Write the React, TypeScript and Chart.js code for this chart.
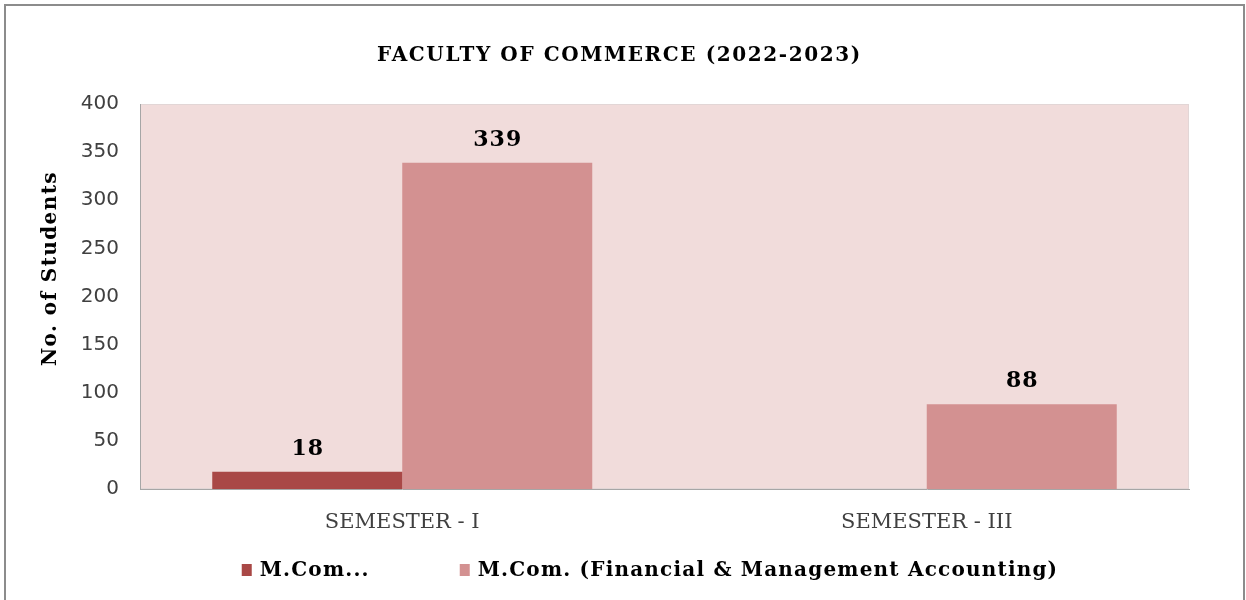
import React, { useEffect, useRef } from "react";
import { Chart, registerables } from "chart.js";

Chart.register(...registerables);

const chartTitle = "FACULTY OF COMMERCE (2022-2023)";
const yAxisTitle = "No. of Students";
const categories = ["SEMESTER - I", "SEMESTER - III"];
const seriesNames = ["M.Com...", "M.Com. (Financial & Management Accounting)"];
const mcomValues: (number | null)[] = [18, null];
const fmaValues: (number | null)[] = [339, 88];
const yTicks = [0, 50, 100, 150, 200, 250, 300, 350, 400];
const seriesColors = ["#A94846", "#D39191"];

const SERIF = "'DejaVu Serif', 'Liberation Serif', serif";
const SANS = "'DejaVu Sans', 'Liberation Sans', sans-serif";

const frameAndBg = {
  id: "frameAndBg",
  beforeDraw(chart: any) {
    const { ctx, chartArea } = chart;
    ctx.save();
    ctx.fillStyle = "#ffffff";
    ctx.fillRect(0, 0, chart.width, chart.height);
    ctx.strokeStyle = "#8c8c8c";
    ctx.lineWidth = 2;
    ctx.strokeRect(5, 5, chart.width - 7, chart.height + 10);
    ctx.fillStyle = "#F1DCDB";
    ctx.fillRect(chartArea.left, chartArea.top, chartArea.right - chartArea.left, chartArea.bottom - chartArea.top);
    ctx.strokeStyle = "#e2d6d6";
    ctx.lineWidth = 1;
    ctx.strokeRect(chartArea.left + 0.5, chartArea.top + 0.5, chartArea.right - chartArea.left - 1, chartArea.bottom - chartArea.top - 1);
    ctx.restore();
  },
};

const texts = {
  id: "texts",
  afterDraw(chart: any) {
    const { ctx, chartArea } = chart;
    ctx.save();
    ctx.fillStyle = "#000000";
    // chart title
    ctx.font = `bold 20px ${SERIF}`;
    (ctx as any).letterSpacing = "1.6px";
    ctx.textAlign = "center";
    ctx.textBaseline = "middle";
    ctx.fillText(chartTitle, (48 + chartArea.right) / 2 + 1, 56);
    // y axis title
    ctx.save();
    ctx.translate(51, chartArea.top + (chartArea.bottom - chartArea.top) * 0.43);
    ctx.rotate(-Math.PI / 2);
    ctx.font = `bold 20px ${SERIF}`;
    (ctx as any).letterSpacing = "1.4px";
    ctx.fillText(yAxisTitle, 1, 0);
    ctx.restore();
    // value labels
    ctx.font = `bold 22px ${SERIF}`;
    (ctx as any).letterSpacing = "1px";
    ctx.textAlign = "center";
    ctx.textBaseline = "alphabetic";
    chart.data.datasets.forEach((ds: any, i: number) => {
      const meta = chart.getDatasetMeta(i);
      meta.data.forEach((bar: any, j: number) => {
        const v = ds.data[j];
        if (v === null || v === undefined) return;
        ctx.fillText(String(v), bar.x + 0.5, bar.y - 17);
      });
    });
    // legend
    const datasets = chart.data.datasets;
    ctx.font = `bold 20px ${SERIF}`;
    (ctx as any).letterSpacing = "1.2px";
    ctx.textBaseline = "middle";
    ctx.textAlign = "left";
    const box = 10;
    const boxGap = 8;
    const itemGap = 90;
    const widths = datasets.map((d: any) => ctx.measureText(d.label).width);
    const total = widths.reduce((a: number, w: number) => a + box + boxGap + w, 0) + itemGap * (datasets.length - 1);
    const centerX = 650;
    const cy = chartArea.bottom + 81;
    let x = centerX - total / 2;
    datasets.forEach((d: any, i: number) => {
      ctx.fillStyle = d.backgroundColor;
      ctx.fillRect(x, cy - 6, box, 12);
      x += box + boxGap;
      ctx.fillStyle = "#000000";
      ctx.fillText(d.label, x, cy + 1);
      x += widths[i] + itemGap;
    });
    ctx.restore();
  },
};

export default function App() {
  const ref = useRef<HTMLCanvasElement | null>(null);
  useEffect(() => {
    document.body.style.margin = "0";
    if (!ref.current) return;
    const chart = new Chart(ref.current, {
      type: "bar",
      data: {
        labels: categories,
        datasets: [
          { label: seriesNames[0], data: mcomValues, backgroundColor: seriesColors[0], categoryPercentage: 0.7245, barPercentage: 1 },
          { label: seriesNames[1], data: fmaValues, backgroundColor: seriesColors[1], categoryPercentage: 0.7245, barPercentage: 1 },
        ],
      },
      options: {
        responsive: false,
        animation: false,
        layout: { padding: { top: 104, left: 48, right: 57, bottom: 0 } },
        plugins: {
          title: { display: false },
          legend: { display: false },
          tooltip: { enabled: false },
        },
        scales: {
          x: {
            grid: { display: false, drawTicks: false },
            border: { display: true, color: "#a6a6a6", width: 1 },
            ticks: { color: "#404040", font: { family: SERIF, size: 21 }, padding: 21 },
            afterFit: (s: any) => { s.height = 111; },
          },
          y: {
            min: 0,
            max: 400,
            afterBuildTicks: (s: any) => { s.ticks = yTicks.map((v) => ({ value: v })); },
            grid: { display: false, drawTicks: false },
            border: { display: true, color: "#a6a6a6", width: 1 },
            ticks: { color: "#404040", font: { family: SANS, size: 20 }, padding: 21 },
            afterFit: (s: any) => { s.width = 92; },
          },
        },
      },
      plugins: [frameAndBg, texts],
    });
    return () => chart.destroy();
  }, []);
  return (
    <div style={{ width: 1246, height: 600 }}>
      <canvas ref={ref} width={1246} height={600} style={{ display: "block" }} />
    </div>
  );
}
